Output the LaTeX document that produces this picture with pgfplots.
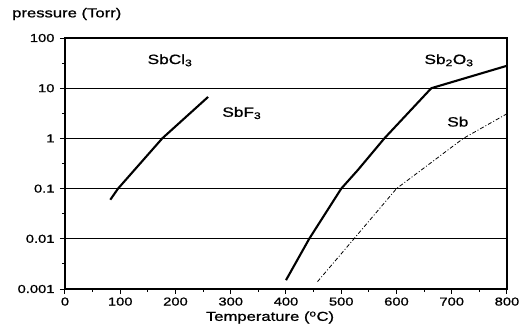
\documentclass[border=0pt]{standalone}
\usepackage{fontspec}
\setmainfont{Liberation Sans}[FakeStretch=1.28, FakeBold=1]
\usepackage{pgfplots}
\pgfplotsset{compat=1.18}
\begin{document}
\begin{tikzpicture}
\begin{axis}[
  name=ax, scale only axis, width=442bp, height=251bp,
  xmin=0, xmax=800, ymode=log, ymin=0.001, ymax=100,
  xtick={0,100,...,800}, minor x tick num=1,
  ytick={0.001,0.01,0.1,1,10,100},
  yticklabels={0.001,0.01,0.1,1,10,100},
  minor ytick={0.00316,0.0316,0.316,3.16,31.6},
  ymajorgrids, major grid style={black, line width=0.9bp},
  axis line style={line width=1.3bp},
  every tick/.style={black, line width=1bp},
  major tick length=5bp, minor tick length=3bp,
  tick align=outside, tick pos=left,
  /pgf/number format/assume math mode=true,
  ticklabel style={font=\fontsize{11.5bp}{13bp}\selectfont},
  yticklabel style={xshift=-2bp},
]
\addplot[black, line width=2.1bp] coordinates {
  (82,0.06) (96,0.1) (176,1) (259,6.7)
};
\addplot[black, line width=2.1bp] coordinates {
  (400,0.0015) (442,0.01) (500,0.1) (530,0.234) (578,1) (663,10) (800,28)
};
\addplot[black, line width=0.8bp, dash pattern=on 4bp off 2bp on 1bp off 2bp] coordinates {
  (457,0.0014) (523,0.01) (600,0.1) (721,1) (800,3.1)
};
\node[font=\fontsize{13.5bp}{15bp}\selectfont] at (axis cs:190,36) {SbCl\textsubscript{3}};
\node[font=\fontsize{13.5bp}{15bp}\selectfont] at (axis cs:695,36) {Sb\textsubscript{2}O\textsubscript{3}};
\node[font=\fontsize{13.5bp}{15bp}\selectfont] at (axis cs:320,3.2) {SbF\textsubscript{3}};
\node[font=\fontsize{13.5bp}{15bp}\selectfont] at (axis cs:711,2.15) {Sb};
\end{axis}
\node[font=\fontsize{13bp}{15bp}\selectfont, inner sep=0pt] at ([xshift=205bp,yshift=-28.5bp]ax.south west) {Temperature (\textsuperscript{o}C)};
\node[font=\fontsize{13bp}{15bp}\selectfont, inner sep=0pt, anchor=west] at ([xshift=-53bp,yshift=275bp]ax.south west) {pressure (Torr)};
\pgfresetboundingbox
\path ([xshift=-65bp,yshift=-46bp]ax.south west) rectangle ++(529bp,335bp);
\end{tikzpicture}
\end{document}
